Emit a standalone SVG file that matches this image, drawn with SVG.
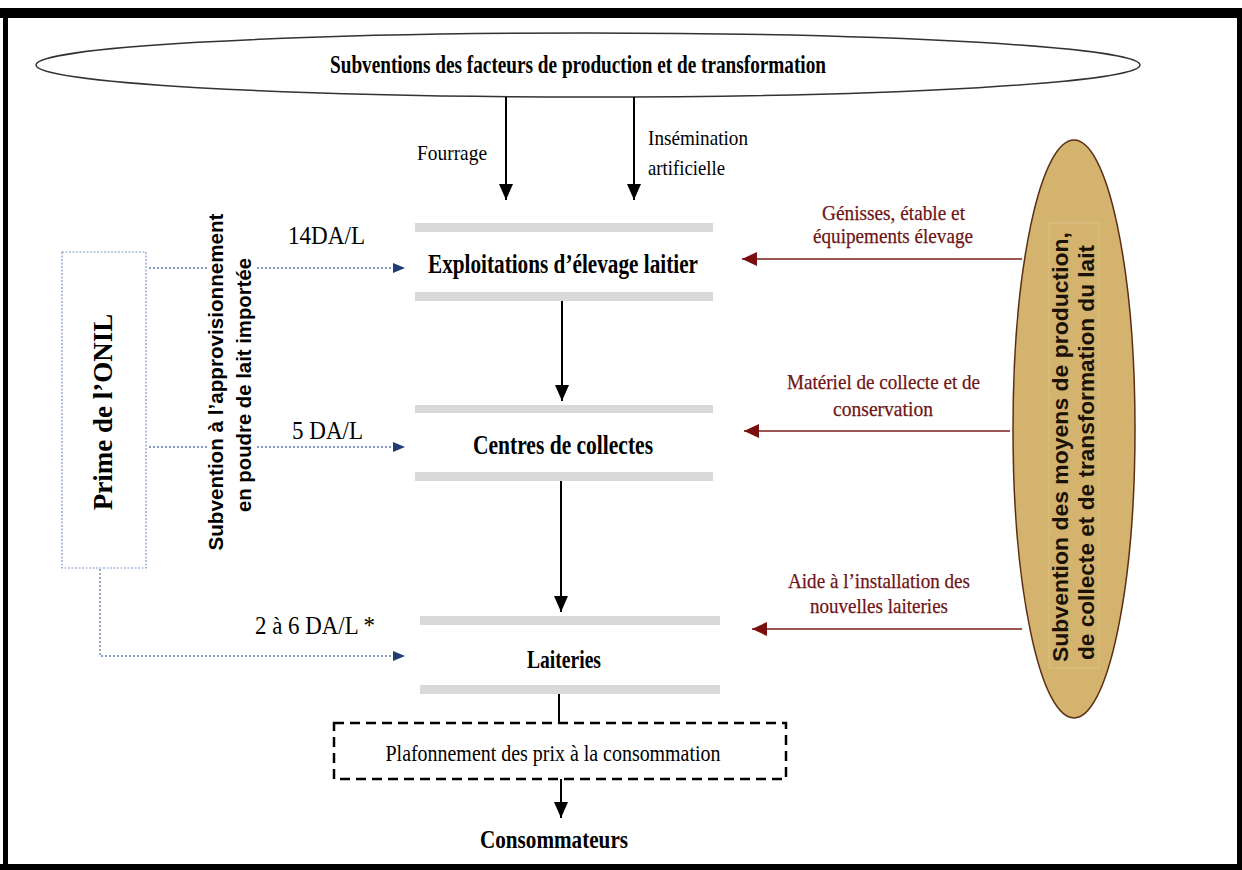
<svg xmlns="http://www.w3.org/2000/svg" width="1242" height="870" viewBox="0 0 1242 870">
<defs>
<style>
.serif{font-family:"Liberation Serif","Times New Roman",serif;}
.sans{font-family:"Liberation Sans",Arial,sans-serif;font-weight:bold;}
.b{font-weight:bold;}
.bar{fill:#d9d9d9;}
.blk{stroke:#000;stroke-width:2;fill:none;}
.red{stroke:#7a1c1c;stroke-width:1.5;fill:none;}
.red-t{fill:#6e1414;font-size:22px;stroke:#6e1414;stroke-width:0.25;}
.dot{stroke:#5f7fae;stroke-width:1.3;stroke-dasharray:2 2;fill:none;}
</style>
<marker id="ab" viewBox="0 0 16 14" refX="16" refY="7" markerWidth="16" markerHeight="14" markerUnits="userSpaceOnUse" orient="auto"><path d="M0,0 L16,7 L0,14 z" fill="#000"/></marker>
<marker id="ar" viewBox="0 0 15 14" refX="15" refY="7" markerWidth="15" markerHeight="14" markerUnits="userSpaceOnUse" orient="auto"><path d="M0,0 L15,7 L0,14 z" fill="#7a0f0f"/></marker>
<marker id="an" viewBox="0 0 12 10" refX="12" refY="5" markerWidth="12" markerHeight="10" markerUnits="userSpaceOnUse" orient="auto"><path d="M0,0 L12,5 L0,10 z" fill="#1f3c73"/></marker>
</defs>
<rect width="1242" height="870" fill="#fff"/>
<g id="frame">
<rect x="0" y="8" width="1242" height="10" fill="#000"/>
<rect x="3" y="8" width="5" height="862" fill="#000"/>
<rect x="1237" y="8" width="5" height="862" fill="#000"/>
<rect x="0" y="864" width="1242" height="6" fill="#000"/>
</g>
<g id="subventions-facteurs">
<ellipse cx="588" cy="65" rx="552" ry="32" fill="#fff" stroke="#333" stroke-width="1.5"/>
<text class="serif b" x="578" y="73" font-size="25" text-anchor="middle" textLength="496" lengthAdjust="spacingAndGlyphs">Subventions des facteurs de production et de transformation</text>
</g>
<g id="labels-intrants" class="serif" font-size="22">
<text x="417" y="160" textLength="70" lengthAdjust="spacingAndGlyphs">Fourrage</text>
<text x="648" y="145" textLength="100" lengthAdjust="spacingAndGlyphs">Insémination</text>
<text x="648" y="175" textLength="77" lengthAdjust="spacingAndGlyphs">artificielle</text>
</g>
<g id="exploitations">
<rect class="bar" x="415" y="223" width="298" height="9"/>
<rect class="bar" x="415" y="292" width="298" height="9"/>
<text class="serif b" x="563" y="273" font-size="28" text-anchor="middle" textLength="270" lengthAdjust="spacingAndGlyphs">Exploitations d’élevage laitier</text>
</g>
<g id="centres">
<rect class="bar" x="415" y="405" width="298" height="8"/>
<rect class="bar" x="415" y="472" width="298" height="9"/>
<text class="serif b" x="563" y="454" font-size="28" text-anchor="middle" textLength="180" lengthAdjust="spacingAndGlyphs">Centres de collectes</text>
</g>
<g id="laiteries">
<rect class="bar" x="420" y="616" width="300" height="9"/>
<rect class="bar" x="420" y="685" width="300" height="9"/>
<text class="serif b" x="564" y="668" font-size="26" text-anchor="middle" textLength="74" lengthAdjust="spacingAndGlyphs">Laiteries</text>
</g>
<g id="plafonnement">
<rect x="334" y="723" width="452" height="56" fill="none" stroke="#000" stroke-width="2.5" stroke-dasharray="10 6"/>
<text class="serif" x="553" y="761" font-size="23" text-anchor="middle" textLength="335" lengthAdjust="spacingAndGlyphs">Plafonnement des prix à la consommation</text>
</g>
<g id="consommateurs">
<text class="serif b" x="554" y="848" font-size="26" text-anchor="middle" textLength="148" lengthAdjust="spacingAndGlyphs">Consommateurs</text>
</g>
<g id="prime-onil">
<rect x="62" y="252" width="84" height="316" fill="#fff" stroke="#7f9cc4" stroke-width="1.2" stroke-dasharray="2 1.5"/>
<text class="serif b" transform="translate(112,412) rotate(-90)" font-size="27" text-anchor="middle">Prime de l’ONIL</text>
</g>
<g id="subvention-poudre">
<text class="sans" transform="translate(223,382) rotate(-90)" font-size="20" text-anchor="middle" textLength="337" lengthAdjust="spacingAndGlyphs">Subvention à l’approvisionnement</text>
<text class="sans" transform="translate(251,385) rotate(-90)" font-size="20" text-anchor="middle" textLength="254" lengthAdjust="spacingAndGlyphs">en poudre de lait importée</text>
</g>
<g id="montants" class="serif" font-size="26">
<text x="288" y="244" textLength="77" lengthAdjust="spacingAndGlyphs">14DA/L</text>
<text x="292" y="439" textLength="71" lengthAdjust="spacingAndGlyphs">5 DA/L</text>
<text x="255" y="634" textLength="120" lengthAdjust="spacingAndGlyphs">2 à 6 DA/L *</text>
</g>
<g id="subvention-moyens">
<ellipse cx="1074" cy="429" rx="61" ry="289" fill="#d3b36e" stroke="#5a2e14" stroke-width="1.5"/>
<rect x="1049" y="223" width="50" height="445" fill="none" stroke="#dcc184" stroke-width="1"/>
<text class="sans" transform="translate(1068,662) rotate(-90)" font-size="22" fill="#1a1208" textLength="430" lengthAdjust="spacingAndGlyphs">Subvention des moyens de production,</text>
<text class="sans" transform="translate(1094,660) rotate(-90)" font-size="22" fill="#1a1208" textLength="415" lengthAdjust="spacingAndGlyphs">de collecte et de transformation du lait</text>
</g>
<g id="labels-moyens" class="serif red-t">
<text x="822" y="220" textLength="143" lengthAdjust="spacingAndGlyphs">Génisses, étable et</text>
<text x="813" y="243" textLength="160" lengthAdjust="spacingAndGlyphs">équipements élevage</text>
<text x="787" y="389" textLength="193" lengthAdjust="spacingAndGlyphs">Matériel de collecte et de</text>
<text x="833" y="416" textLength="100" lengthAdjust="spacingAndGlyphs">conservation</text>
<text x="788" y="588" textLength="182" lengthAdjust="spacingAndGlyphs">Aide à l’installation des</text>
<text x="810" y="613" textLength="138" lengthAdjust="spacingAndGlyphs">nouvelles laiteries</text>
</g>
<g id="connectors">
<path class="blk" d="M506,97 V200" marker-end="url(#ab)"/>
<path class="blk" d="M634,97 V200" marker-end="url(#ab)"/>
<path class="blk" d="M562,301 V401" marker-end="url(#ab)"/>
<path class="blk" d="M561,481 V612" marker-end="url(#ab)"/>
<path class="blk" d="M559,694 V723"/>
<path class="blk" d="M561,779 V818" marker-end="url(#ab)"/>
<path class="red" d="M1022,259 H742" marker-end="url(#ar)"/>
<path class="red" d="M1010,431 H744" marker-end="url(#ar)"/>
<path class="red" d="M1022,629 H752" marker-end="url(#ar)"/>
<path class="dot" d="M149,268 H207"/>
<path class="dot" d="M257,268 H405" marker-end="url(#an)"/>
<path class="dot" d="M149,447 H207"/>
<path class="dot" d="M257,447 H405" marker-end="url(#an)"/>
<path class="dot" d="M100,569 V656 H405" marker-end="url(#an)"/>
</g>
</svg>
